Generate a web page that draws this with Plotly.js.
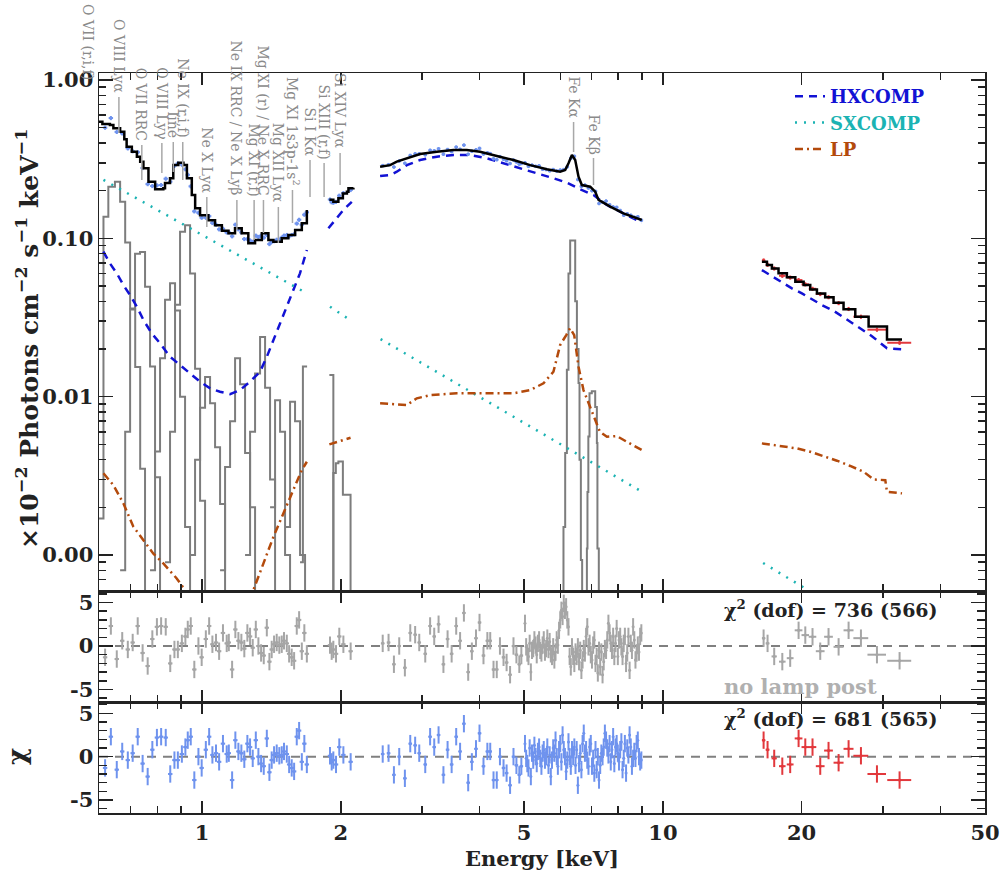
<!DOCTYPE html>
<html><head><meta charset="utf-8">
<script src="https://cdn.plot.ly/plotly-3.0.1.min.js"></script>
<style>body{margin:0;background:#fff}#chart{width:1005px;height:878px}</style>
</head><body><div id="chart"></div>
<script>
// ---------------- DATA ----------------
// total model (black), four energy segments
const modelE1 = [0.5975,0.6077,0.631,0.642,0.664,0.678,0.686,0.704,0.722,0.734,0.746,0.765,0.791,0.824,0.831,0.852,0.866,0.888,0.911,0.927,0.950,0.966,0.990,1.032,1.067,1.104,1.141,1.179,1.219,1.26,1.303,1.348,1.393,1.428,1.489,1.539,1.592,1.646,1.688];
const modelV1 = [0.545,0.527,0.519,0.495,0.471,0.422,0.379,0.352,0.328,0.305,0.277,0.228,0.204,0.207,0.2235,0.240,0.290,0.300,0.290,0.240,0.188,0.155,0.140,0.130,0.121,0.1117,0.1076,0.1157,0.1076,0.0931,0.0975,0.1076,0.0975,0.0951,0.100,0.105,0.1128,0.1244,0.151];
const modelE2 = [1.889,1.927,1.976,2.021,2.062,2.078,2.13];
const modelV2 = [0.175,0.170,0.179,0.192,0.197,0.207,0.209];
const modelE3 = [2.434,2.559,2.646,2.782,2.973,3.232,3.512,3.754,4.012,4.362,4.739,5.152,5.601,5.985,6.137,6.24,6.347,6.452,6.56,6.67,6.954,7.13,7.25,7.685,8.21,9.0];
const modelV3 = [0.2833,0.290,0.305,0.320,0.3406,0.352,0.361,0.361,0.352,0.331,0.3125,0.290,0.273,0.2635,0.270,0.298,0.336,0.3125,0.245,0.217,0.212,0.197,0.175,0.1584,0.1439,0.1305];
const modelE4 = [16.4,16.82,17.24,17.82,18.58,19.38,20.2,20.88,21.59,22.5,23.46,24.66,26.15,27.95,30.64,33.03];
const modelV4 = [0.0712,0.0678,0.0646,0.0601,0.0567,0.0532,0.0507,0.0476,0.0449,0.0424,0.0392,0.0356,0.0320,0.0277,0.0230,0.0230];

// HXCOMP (null = gap between instruments/segments)
const hxE = [0.6108,0.631,0.6531,0.6748,0.698,0.722,0.746,0.7776,0.811,0.852,0.896,0.942,0.990,1.041,1.094,1.15,1.209,1.27,1.336,1.382,1.428,1.476,1.527,1.579,1.631,1.688,null,
  1.88,1.944,2.026,2.113,null,
  2.434,2.559,2.646,2.782,2.973,3.232,3.512,3.817,4.15,4.51,4.90,5.33,5.79,6.19,6.615,7.07,7.56,8.21,9.0,null,
  16.4,17.24,18.13,19.05,20.03,21.06,22.14,23.46,24.87,26.37,28.42,30.64,33.03];
const hxV = [0.0824,0.0695,0.0601,0.0507,0.0438,0.0370,0.0305,0.0251,0.0217,0.01786,0.01584,0.01402,0.01242,0.01128,0.01074,0.01038,0.01101,0.01242,0.01437,0.01786,0.0228,0.0290,0.0370,0.0471,0.0601,0.0844,null,
  0.1157,0.1305,0.151,0.170,null,
  0.2474,0.251,0.2635,0.290,0.3125,0.328,0.336,0.336,0.320,0.298,0.277,0.2575,0.2395,0.2245,0.204,0.1877,0.1623,0.1439,0.1256,null,
  0.0630,0.0578,0.0532,0.0483,0.0449,0.0412,0.0379,0.0349,0.0312,0.0277,0.0241,0.0202,0.0199];

// SXCOMP
const sxE = [0.611,0.771,0.99,1.27,1.688,null,1.895,2.094,null,2.44,3.45,5.69,9.0,null,16.5,20.54];
const sxV = [0.234,0.160,0.1065,0.0712,0.0449,null,0.0370,0.0305,null,0.0231,0.0128,0.00546,0.00251,null,0.00089,0.000606];

// LP (lamp post)
const lpE = [0.611,0.642,0.6748,0.7094,0.746,0.784,0.824,0.881,0.9186,0.95,1.25,1.292,1.359,1.428,1.501,1.579,1.646,1.688,null,
  1.889,2.10,null,
  2.434,2.782,2.924,3.126,3.572,4.012,4.739,5.152,5.506,5.787,5.985,6.17,6.29,6.42,6.56,6.725,7.07,7.30,7.56,7.94,8.35,9.0,null,
  16.4,17.98,19.54,20.88,22.32,23.86,25.5,27.25,28.65,30.38,30.64,33.03];
const lpV = [0.00328,0.00276,0.00212,0.00151,0.00124,0.00102,0.000885,0.000711,0.0006,0.0005,0.0005,0.0006,0.000885,0.0013,0.00183,0.00257,0.00344,0.00388,null,
  0.0050,0.0055,null,
  0.00908,0.00885,0.00976,0.01023,0.0105,0.0105,0.0105,0.0110,0.01214,0.01436,0.0212,0.0245,0.0271,0.0245,0.01545,0.0110,0.00746,0.0060,0.00558,0.00564,0.00519,0.0046,null,
  0.00507,0.00488,0.00471,0.00449,0.00421,0.00394,0.00365,0.00336,0.0030,0.00297,0.00251,0.00245];

// gray emission line components (step profiles)
const lineA_E = [0.5975,0.611,0.626,0.647,0.664,0.681,0.698,0.716,0.734,0.752];
const lineA_V = [0.0017,0.137,0.212,0.228,0.170,0.094,0.036,0.0154,0.0035,0.0001];
const lineB_E = [0.664,0.681,0.698,0.7154,0.7335,0.7521,0.7711,0.7906,0.8106];
const lineB_V = [0.0008,0.0060,0.0355,0.080,0.082,0.0495,0.0155,0.0031,0.0001];
const lineC_E = [0.7711,0.7906,0.8106,0.8311,0.8521,0.8737,0.8958,0.9185,0.9418];
const lineC_V = [0.0008,0.0045,0.0175,0.041,0.052,0.035,0.010,0.0015,0.0001];
const lineD_E = [0.8311,0.8521,0.8737,0.8958,0.9185,0.9418,0.9656,0.9901,1.0151];
const lineD_V = [0.0009,0.0060,0.038,0.110,0.121,0.060,0.015,0.0022,0.0001];
const lineE_E = [0.9418,0.9656,0.9901,1.0151,1.0408,1.0671,1.0941,1.1218];
const lineE_V = [0.0010,0.0040,0.0085,0.0133,0.0091,0.0048,0.0021,0.0001];
const lineF_E = [1.0941,1.1218,1.1502,1.1793,1.2091,1.2397,1.2711,1.3032];
const lineF_V = [0.0008,0.0036,0.0070,0.0175,0.0120,0.0044,0.0020,0.0001];
const lineG_E = [1.2397,1.2711,1.3032,1.3362,1.3700,1.4046,1.4402];
const lineG_V = [0.0010,0.0060,0.0140,0.0238,0.0114,0.0030,0.0001];
const lineH_E = [1.4046,1.4402,1.4766,1.5139,1.5522];
const lineH_V = [0.0020,0.0095,0.0060,0.0010,0.0001];
const lineI_E = [1.5139,1.5522,1.5914,1.6317,1.6730];
const lineI_V = [0.0015,0.0093,0.0070,0.0010,0.0001];
const lineJ_E = [1.6317,1.655,1.69];
const lineJ_V = [0.0009,0.0155,0.0155];
const lineL_E = [1.889,1.927];
const lineL_V = [0.0137,0.0003];
const lineK_E = [1.889,1.927,1.951,1.976,2.021,2.078,2.10];
const lineK_V = [0.0003,0.0033,0.0038,0.0039,0.0024,0.0024,0.0001];
const lineFeKa_E = [5.95,6.085,6.137,6.189,6.239,6.292,6.371,6.452,6.507,6.56,6.593,6.637,6.68];
const lineFeKa_V = [0.0001,0.0015,0.0044,0.0148,0.060,0.097,0.097,0.040,0.020,0.0122,0.0040,0.00093,0.0001];
const lineFeKb_E = [6.80,6.84,6.86,6.89,6.93,7.01,7.13,7.19,7.21,7.26];
const lineFeKb_V = [0.0001,0.0011,0.0025,0.0056,0.0105,0.0108,0.0086,0.0051,0.0011,0.0001];

// soft band data (0.6-2.1 keV)
const lowE = [0.616,0.634,0.653,0.671,0.690,0.707,0.725,0.743,0.762,0.780,0.798,0.815,0.834,0.853,0.871,0.886,0.904,0.920,0.931,0.945,0.962,0.982,0.998,1.019,1.036,1.053,1.072,1.089,1.11,1.131,1.143,1.162,1.181,1.199,1.217,1.235,1.254,1.271,1.288,1.308,1.325,1.343,1.361,1.382,1.40,1.416,1.433,1.452,1.471,1.489,1.506,1.527,1.545,1.565,1.584,1.605,1.624,1.646,1.667,1.688,1.895,1.911,1.927,1.953,1.985,2.026,2.101];
const lowFlux = [0.50,0.575,0.47,0.46,0.37,0.355,0.35,0.278,0.22,0.214,0.216,0.217,0.238,0.228,0.287,0.297,0.292,0.273,0.252,0.213,0.148,0.145,0.135,0.135,0.138,0.125,0.122,0.114,0.115,0.109,0.109,0.103,0.122,0.114,0.109,0.099,0.099,0.097,0.095,0.104,0.102,0.104,0.101,0.105,0.092,0.095,0.096,0.098,0.098,0.101,0.104,0.105,0.103,0.105,0.106,0.124,0.131,0.122,0.141,0.146,0.176,0.169,0.168,0.170,0.186,0.193,0.202];
const lowChi = [-1.3,2.3,-1.5,0.6,-0.4,0.4,2.3,-0.8,-2.3,0.8,2.2,2.3,2.2,-2.0,-0.4,-0.4,0.3,1.1,1.9,2.3,-2.7,0,-1.3,0.8,2.3,0.2,0.4,-0.6,1.5,0.3,0.4,-2.7,1.9,0.6,0.4,-0.3,1.5,1.1,-0.2,1.9,0,-0.8,-1.1,2.1,-1.8,-0.4,0.2,0.4,0.1,0.2,0.6,0.3,-0.9,-1.3,-1.7,2.3,3.0,-0.6,1.5,-0.9,0.1,-0.6,-0.4,-0.9,1.1,0.2,-0.6];

// 2.4-5 keV data
const midE = [2.466,2.539,2.608,2.678,2.755,2.83,2.90,2.96,3.05,3.125,3.19,3.26,3.34,3.41,3.48,3.56,3.63,3.70,3.78,3.85,3.93,4.00,4.08,4.16,4.22,4.29,4.36,4.43,4.51,4.58,4.66,4.74,4.81,4.88,4.93];
const midFlux = [0.288,0.292,0.282,0.308,0.298,0.334,0.342,0.342,0.337,0.36,0.357,0.368,0.340,0.364,0.353,0.377,0.365,0.388,0.340,0.355,0.362,0.37,0.341,0.347,0.343,0.318,0.314,0.328,0.316,0.309,0.297,0.312,0.304,0.294,0.297];
const midChi = [0.3,0.4,-2.1,0,-2.5,1.5,1.3,0.4,-0.9,2.3,1.1,2.5,-2.1,0.8,-0.9,2.3,0.6,3.8,-3.0,-0.6,0.9,2.7,-1.1,0.6,0.6,-2.7,-2.7,0,-1.3,-1.9,-3.3,0,-1.0,-2.1,-1.1];

// 5-9 keV data (dense residuals)
const denseE = [5.020,5.050,5.079,5.109,5.139,5.170,5.200,5.231,5.262,5.293,5.324,5.355,5.387,5.418,5.450,5.482,5.514,5.547,5.580,5.613,5.646,5.679,5.712,5.746,5.780,5.814,5.848,5.883,5.917,5.952,5.987,6.022,6.058,6.094,6.130,6.166,6.202,6.239,6.275,6.312,6.349,6.387,6.424,6.462,6.500,6.539,6.577,6.616,6.655,6.694,6.734,6.773,6.813,6.853,6.894,6.934,6.975,7.016,7.057,7.099,7.141,7.183,7.225,7.268,7.310,7.353,7.397,7.440,7.484,7.528,7.573,7.617,7.662,7.707,7.753,7.799,7.845,7.891,7.937,7.984,8.031,8.078,8.126,8.174,8.222,8.270,8.319,8.368,8.417,8.467,8.517,8.567,8.617,8.668,8.719,8.770,8.822,8.874,8.926,8.979];
const denseChiLP = [1.5,-0.2,-0.8,-1.3,1.0,-2.3,0.4,-0.4,1.3,0,-0.8,0.6,1.1,-0.2,-1.1,0.4,0.8,-0.4,0,1.1,-1.0,0.2,-2.3,-0.4,1.0,0.4,1.9,0,-1.1,0.8,1.5,-0.6,2.5,0.8,0,-1.7,-0.4,1.7,0,-1.1,0.8,0,1.1,-1.0,0.8,-3.3,-0.8,0.4,-1.5,1.5,2.7,0.4,0.8,-0.4,-1.1,1.1,1.5,-1.1,-0.2,-1.9,0.8,-1.5,0,-2.7,-1.0,0.4,0,1.1,2.7,1.9,1.0,0.2,1.5,-0.6,0.8,2.3,-0.8,1.1,1.5,0.4,-0.6,0.8,1.7,-1.5,-0.2,1.5,-1.9,1.0,0.2,2.5,1.1,-1.1,-0.2,0.6,-0.2,1.5,1.9,0,-0.6,-0.4];
const denseChiNoLP = [2.6,-0.1,-0.8,-1.2,0.3,-3.0,-0.5,-0.3,0.7,0.1,-1.0,0.3,0.7,-0.5,-0.8,0.1,0.7,-0.7,-0.3,0.9,-0.4,0.5,-0.9,-1.2,-0.1,-1.6,-0.7,0.7,0.1,1.8,3.0,4.1,3.4,4.9,4.1,4.5,3.0,2.2,-1.2,-2.4,-0.1,-1.2,-2.0,-0.7,-1.2,-0.1,-1.8,-0.5,-2.8,-1.6,-0.3,-0.8,1.1,2.2,-0.1,0.3,-1.0,-1.6,0.1,0.7,-2.0,-1.2,-3.1,-0.5,-2.4,-0.7,-3.3,-1.8,-0.3,-0.5,0.7,2.6,1.5,0.3,-0.5,1.1,-1.2,0.3,2.0,-1.2,0.7,1.1,-0.1,-1.2,0.3,1.1,-2.0,-0.8,1.1,-2.8,0.3,-0.5,2.2,0.7,-1.6,-0.8,0.1,-0.7,1.1,1.5];
const specE5 = [5.020,5.109,5.200,5.293,5.387,5.482,5.580,5.679,5.780,5.883,5.987,6.094,6.202,6.312,6.424,6.539,6.655,6.773,6.894,7.016,7.141,7.268,7.397,7.528,7.662,7.799,7.937,8.078,8.222,8.368,8.517,8.668,8.822,8.979];
const specV5 = [0.30,0.285,0.290,0.285,0.287,0.273,0.272,0.267,0.272,0.266,0.27,0.272,0.283,0.32,0.33,0.235,0.213,0.217,0.208,0.200,0.198,0.166,0.169,0.172,0.163,0.158,0.157,0.150,0.140,0.143,0.140,0.136,0.137,0.130];

// NuSTAR data
const nuE = [16.54,16.87,17.44,18.16,18.89,19.70,20.37,21.12,21.95,22.88,24.06,25.29,26.90,29.14,32.63];
const nuHalfWidth = [0.14,0.16,0.23,0.3,0.32,0.38,0.38,0.4,0.48,0.5,0.6,0.63,1.0,1.35,1.95];
const nuFlux = [0.0725,0.068,0.0645,0.058,0.0565,0.0545,0.0512,0.048,0.0445,0.0425,0.039,0.0358,0.032,0.0265,0.0219];
const nuChiLP = [1.9,0.8,-0.2,-1.1,-0.9,2.1,1.1,1.1,-1.1,0.7,-0.7,0.9,0.1,-2.0,-2.7];
const nuChiNoLP = [0.9,0.3,-1.2,-1.8,-1.4,1.8,1.25,1.06,-0.6,1.06,-0.1,1.8,0.9,-1.0,-1.7];

// emission line identifications
const lineNames = ['O VIII Lyα','O VII RRC','O VIII Lyγ','line','Ne IX (r,i,f)','Ne X Lyα','Ne IX RRC / Ne X Lyβ','Mg XI (r,f)','Mg XI (r) / Ne X RRC','Mg XII Lyα','Mg XI 1s3p-1s<sup>2</sup>','Si I Kα','Si XIII (r,f)','Si XIV Lyα','Fe Kα','Fe Kβ'];
const lineEnergies = [0.66,0.740,0.818,0.866,0.908,1.024,1.19,1.297,1.359,1.464,1.571,1.715,1.84,1.993,6.40,7.07];
const edgeLineName = 'O VII (r,i,f)';

const xMajor = [1,2,5,10,20,50];
const xMajorText = ['1','2','5','10','20','50'];
const xMinor = [0.6,0.7,0.8,0.9,3,4,6,7,8,9,30,40];
const yMajor = [0.001,0.01,0.1,1];
const yMajorText = ['0.00','0.01','0.10','1.00'];
const yMinor = [0.0006,0.0007,0.0008,0.0009,0.002,0.003,0.004,0.005,0.006,0.007,0.008,0.009,0.02,0.03,0.04,0.05,0.06,0.07,0.08,0.09,0.2,0.3,0.4,0.5,0.6,0.7,0.8,0.9];

// ---------------- STYLE / LAYOUT ----------------
// label line pixel positions (top, bottom) in page px
const labelLinePx = [[97,133],[145,180],[143,173],[142,172],[142,180],[197,227],[200,230],[200,240],[200,233],[207,243],[190,223],[160,197],[163,197],[153,185],[122,152],[158,185]];
const PT = 73, PB = 813, PL = 99, PR = 985;
const py = p => (PB - p) / (PB - PT);
const pxp = p => (p - PL) / (PR - PL);

const BLUE = '#6f93ee', GRAYR = '#a6a6a6', RED = '#e2383c';
const HXC = '#1212d4', SXC = '#1bb3b3', LPC = '#b34a0c', LINEG = '#7d7d7d';
const FONT = 'DejaVu Serif';

const traces = [];
const grayComps = [[lineA_E,lineA_V],[lineB_E,lineB_V],[lineC_E,lineC_V],[lineD_E,lineD_V],[lineE_E,lineE_V],[lineF_E,lineF_V],[lineG_E,lineG_V],[lineH_E,lineH_V],[lineI_E,lineI_V],[lineJ_E,lineJ_V],[lineL_E,lineL_V],[lineK_E,lineK_V],[lineFeKa_E,lineFeKa_V],[lineFeKb_E,lineFeKb_V]];
grayComps.forEach(c => traces.push({x:c[0], y:c[1], mode:'lines', line:{shape:'hv', color:LINEG, width:2}, showlegend:false, hoverinfo:'skip', xaxis:'x', yaxis:'y'}));

traces.push({x:hxE, y:hxV, mode:'lines', name:'<span style="color:'+HXC+'">HXCOMP</span>', line:{color:HXC, width:2.5, dash:'8px,6px'}, legendrank:1, xaxis:'x', yaxis:'y'});
traces.push({x:sxE, y:sxV, mode:'lines', name:'<span style="color:'+SXC+'">SXCOMP</span>', line:{color:SXC, width:2.5, dash:'2px,7px'}, legendrank:2, xaxis:'x', yaxis:'y'});
traces.push({x:lpE, y:lpV, mode:'lines', name:'<span style="color:'+LPC+'">LP</span>', line:{color:LPC, width:2.5, dash:'8px,4px,2px,4px'}, legendrank:3, xaxis:'x', yaxis:'y'});

function pts(x, y, color, xpct, ypct, xa, ya, xarr) {
  const ex = xarr ? {type:'data', array:xarr, visible:true, color:color, thickness:2, width:0}
                  : {type:'percent', value:xpct, visible:true, color:color, thickness:2, width:0};
  const ey = ypct === null ? {type:'constant', value:1, visible:true, color:color, thickness:2, width:0}
                           : {type:'percent', value:ypct, visible:true, color:color, thickness:2, width:0};
  return {x:x, y:y, mode:'markers', marker:{color:color, size:3}, error_x:ex, error_y:ey, showlegend:false, hoverinfo:'skip', xaxis:xa, yaxis:ya};
}
traces.push(pts(lowE, lowFlux, BLUE, 1.1, 3, 'x', 'y'));
traces.push(pts(midE, midFlux, BLUE, 0.9, 2.5, 'x', 'y'));
traces.push(pts(specE5, specV5, BLUE, 0.9, 2.5, 'x', 'y'));
traces.push(pts(nuE, nuFlux, RED, 0, 3, 'x', 'y', nuHalfWidth));

const blk = {mode:'lines', line:{color:'#000', width:2.5, shape:'hv'}, showlegend:false, hoverinfo:'skip', xaxis:'x', yaxis:'y'};
traces.push(Object.assign({}, blk, {x:modelE1, y:modelV1}));
traces.push(Object.assign({}, blk, {x:modelE2, y:modelV2}));
traces.push(Object.assign({}, blk, {x:modelE3, y:modelV3, line:{color:'#000', width:2.5, shape:'linear'}}));
traces.push(Object.assign({}, blk, {x:modelE4, y:modelV4}));

// residuals: no lamp post (middle), with lamp post (bottom)
traces.push(pts(lowE, lowChi, GRAYR, 1.1, null, 'x2', 'y2'));
traces.push(pts(midE, midChi, GRAYR, 0.9, null, 'x2', 'y2'));
traces.push(pts(denseE, denseChiNoLP, GRAYR, 0.3, null, 'x2', 'y2'));
traces.push(pts(nuE, nuChiNoLP, GRAYR, 0, null, 'x2', 'y2', nuHalfWidth));
traces.push(pts(lowE, lowChi, BLUE, 1.1, null, 'x3', 'y3'));
traces.push(pts(midE, midChi, BLUE, 0.9, null, 'x3', 'y3'));
traces.push(pts(denseE, denseChiLP, BLUE, 0.3, null, 'x3', 'y3'));
traces.push(pts(nuE, nuChiLP, RED, 0, null, 'x3', 'y3', nuHalfWidth));

const tickFont = {family:FONT, size:21, color:'#222', weight:'bold'};
const axBase = {showline:true, linecolor:'#222', linewidth:1.5, mirror:'allticks', ticks:'inside', tickcolor:'#222', tickwidth:1.5, showgrid:false, zeroline:false, tickfont:tickFont};
const xBase = Object.assign({}, axBase, {type:'log', range:[Math.log10(0.5975), Math.log10(50)], tickmode:'array', tickvals:xMajor, ticktext:xMajorText, ticklen:12,
  minor:{tickvals:xMinor, ticks:'inside', ticklen:7, tickcolor:'#222', tickwidth:1.5, showgrid:false}});
const chiBase = Object.assign({}, axBase, {tickmode:'array', tickvals:[-5,0,5], ticktext:['-5','0','5'], ticklen:14,
  minor:{tickvals:[-6,-4,-3,-2,-1,1,2,3,4,6], ticks:'inside', ticklen:8, tickcolor:'#222', tickwidth:1.5, showgrid:false}});

const shapes = [
  {type:'line', xref:'paper', x0:0, x1:1, yref:'y2', y0:0, y1:0, line:{color:'#808080', width:2, dash:'9px,7px'}, layer:'below'},
  {type:'line', xref:'paper', x0:0, x1:1, yref:'y3', y0:0, y1:0, line:{color:'#808080', width:2, dash:'9px,7px'}, layer:'below'}
];
const annotations = [];
const LBLFONT = {family:FONT, size:14, color:'#8a8a8a'};
lineEnergies.forEach((e, i) => {
  const [t, b] = labelLinePx[i];
  shapes.push({type:'line', xref:'x', x0:e, x1:e, yref:'paper', y0:py(t), y1:py(b), line:{color:'#a8a8a8', width:1.5}});
  annotations.push({xref:'x', x:Math.log10(e), yref:'paper', y:py(t - 2), xanchor:'center', yanchor:'bottom', textangle:90, showarrow:false,
    text:lineNames[i], font:LBLFONT});
});
annotations.push({xref:'paper', x:pxp(88), yref:'paper', y:py(82), xanchor:'center', yanchor:'bottom', textangle:90, showarrow:false,
  text:edgeLineName, font:LBLFONT});

annotations.push({xref:'paper', yref:'paper', x:pxp(940), y:py(609), xanchor:'right', yanchor:'middle', showarrow:false,
  text:'χ<sup>2</sup> (dof) = 736 (566)', font:{family:FONT, size:19, color:'#222', weight:'bold'}});
annotations.push({xref:'paper', yref:'paper', x:pxp(722), y:py(686), xanchor:'left', yanchor:'middle', showarrow:false,
  text:'no lamp post', font:{family:FONT, size:21, color:'#b0b0b0', weight:'bold'}});
annotations.push({xref:'paper', yref:'paper', x:pxp(940), y:py(718), xanchor:'right', yanchor:'middle', showarrow:false,
  text:'χ<sup>2</sup> (dof) = 681 (565)', font:{family:FONT, size:19, color:'#222', weight:'bold'}});
annotations.push({xref:'paper', yref:'paper', x:pxp(27), y:py(339), xanchor:'center', yanchor:'middle', textangle:-90, showarrow:false,
  text:'×10<sup>−2</sup> Photons cm<sup>−2</sup> s<sup>−1</sup> keV<sup>−1</sup>', font:{family:FONT, size:25, color:'#222', weight:'bold'}});
annotations.push({xref:'paper', yref:'paper', x:pxp(17), y:py(757), xanchor:'center', yanchor:'middle', textangle:-90, showarrow:false,
  text:'χ', font:{family:FONT, size:26, color:'#222', weight:'bold'}});
annotations.push({xref:'paper', yref:'paper', x:pxp(542), y:py(858), xanchor:'center', yanchor:'middle', showarrow:false,
  text:'Energy [keV]', font:{family:FONT, size:21, color:'#222', weight:'bold'}});

const layout = {
  width:1005, height:878, paper_bgcolor:'#fff', plot_bgcolor:'rgba(0,0,0,0)',
  margin:{l:PL, r:1005-PR, t:PT, b:878-PB, autoexpand:false},
  showlegend:true,
  legend:{x:pxp(790), y:py(78), xanchor:'left', yanchor:'top', bgcolor:'rgba(0,0,0,0)', borderwidth:0,
    font:{family:FONT, size:18, weight:'bold'}, tracegroupgap:0, itemwidth:30},
  xaxis: Object.assign({}, xBase, {anchor:'y', domain:[0,1], showticklabels:false}),
  xaxis2: Object.assign({}, xBase, {anchor:'y2', domain:[0,1], showticklabels:false, matches:'x'}),
  xaxis3: Object.assign({}, xBase, {anchor:'y3', domain:[0,1], showticklabels:true, matches:'x'}),
  yaxis: Object.assign({}, axBase, {type:'log', anchor:'x', domain:[0.3,1], range:[-3.2274, 0.0442], tickmode:'array', tickvals:yMajor, ticktext:yMajorText, ticklen:14,
    minor:{tickvals:yMinor, ticks:'inside', ticklen:7, tickcolor:'#222', tickwidth:1.5, showgrid:false}}),
  yaxis2: Object.assign({}, chiBase, {anchor:'x2', domain:[0.15,0.3], range:[-6.44, 6.32]}),
  yaxis3: Object.assign({}, chiBase, {anchor:'x3', domain:[0,0.15], range:[-6.5, 6.3]}),
  shapes: shapes,
  annotations: annotations
};

Plotly.newPlot('chart', traces, layout, {displayModeBar:false, staticPlot:true});
</script></body></html>
